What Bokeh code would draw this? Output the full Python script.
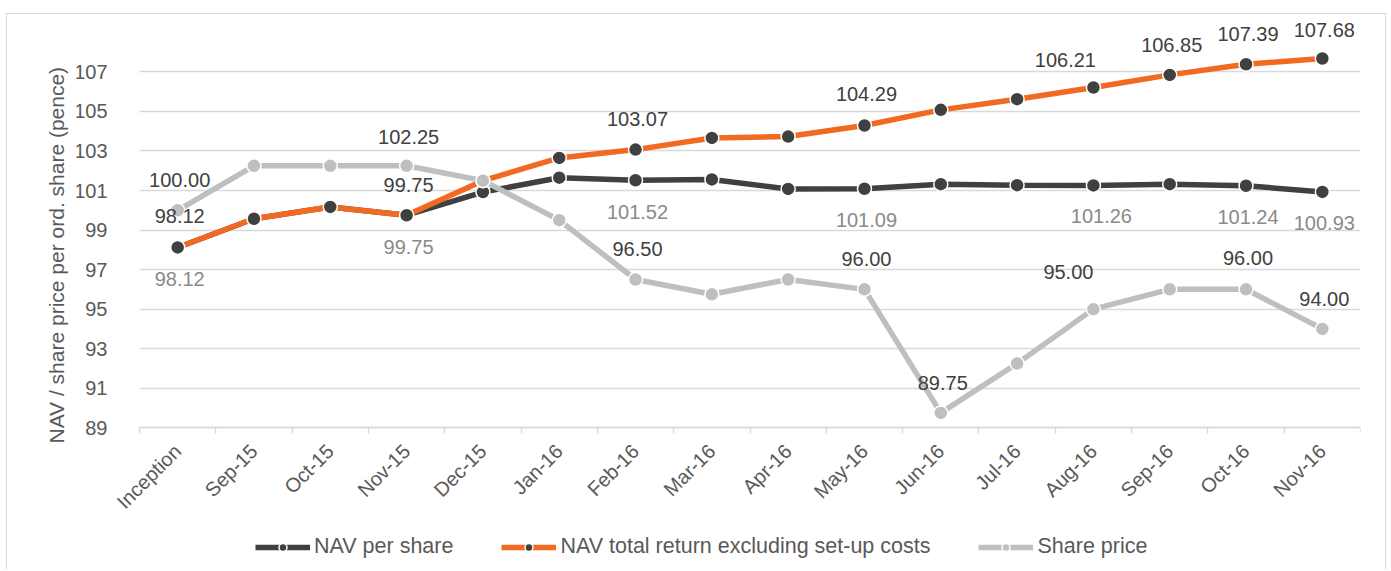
import math
from bokeh.plotting import figure
from bokeh.models import (ColumnDataSource, LabelSet, Legend, LegendItem,
                          FixedTicker, Range1d, Title)
from bokeh.embed import file_html
from bokeh.resources import INLINE
from bokeh.core.properties import value

# ---------------- data ----------------
categories = ["Inception", "Sep-15", "Oct-15", "Nov-15", "Dec-15", "Jan-16",
              "Feb-16", "Mar-16", "Apr-16", "May-16", "Jun-16", "Jul-16",
              "Aug-16", "Sep-16", "Oct-16", "Nov-16"]
nav_per_share = [98.12, 99.57, 100.17, 99.75, 100.92, 101.65, 101.52, 101.56,
                 101.08, 101.09, 101.32, 101.27, 101.26, 101.32, 101.24, 100.93]
nav_total_return = [98.12, 99.57, 100.17, 99.75, 101.50, 102.65, 103.07, 103.66,
                    103.73, 104.29, 105.08, 105.62, 106.21, 106.85, 107.39, 107.68]
share_price = [100.00, 102.25, 102.25, 102.25, 101.50, 99.50, 96.50, 95.75,
               96.50, 96.00, 89.75, 92.25, 95.00, 96.00, 96.00, 94.00]
y_ticks = [89, 91, 93, 95, 97, 99, 101, 103, 105, 107]
y_axis_min = 89

# which points carry a data label
share_label_idx = [0, 3, 6, 9, 10, 12, 14, 15]
total_label_idx = [0, 3, 6, 9, 12, 13, 14, 15]
nav_label_idx = [0, 3, 6, 9, 12, 14, 15]

# label placement (screen px offsets)
share_label_dx = [2, 2, 2, 2, 2, -25, 2, 2]
share_label_dy = [30, 29, 30, 30, 30, 37, 31, 30]
total_label_dx = [2, 2, 2, 2, -28, 2, 2, 2]
total_label_dy = [31, 30, 31, 31, 28, 30, 30, 28]
nav_label_dx = [2, 2, 2, 2, 8, 2, 2]
nav_label_dy = [-32, -32, -32, -31, -31, -31, -31]

# ---------------- styles ----------------
FONT = "Liberation Sans"
DARK = "#404040"
ORANGE = "#f26a21"
GREY = "#bfbfbf"
TXT = "#595959"
GRID = "#d9d9d9"

xs = list(range(len(categories)))
x_lo, x_hi = -0.5, len(categories) - 0.5

# the frame extends left and down so that axis labels and legend fit inside it;
# both axes are pinned to the data area's edges (x = -0.5, y = 89)
p = figure(x_range=Range1d(-1.3257, x_hi), y_range=Range1d(81.98, 109.5),
           width=1380, height=556,
           min_border_left=69, min_border_right=27,
           min_border_top=8, min_border_bottom=4,
           output_backend="svg", toolbar_location=None)
p.styles = {"margin-top": "13px", "margin-left": "6px",
            "border-top": "1px solid #d9d9d9",
            "border-left": "1px solid #d9d9d9", "border-right": "1px solid #d9d9d9"}
p.outline_line_color = None
p.background_fill_color = "white"
p.border_fill_color = "white"

# grid
p.xgrid.visible = False
p.ygrid.grid_line_color = GRID
p.ygrid.grid_line_width = 1.5
try:
    p.ygrid.cross_bounds = (x_lo, x_hi)
except AttributeError:
    pass

# x axis
p.xaxis.fixed_location = y_axis_min
p.xaxis.bounds = (x_lo, x_hi)
p.xaxis.ticker = FixedTicker(ticks=xs, minor_ticks=[i - 0.5 for i in range(len(categories) + 1)])
p.xaxis.major_label_overrides = {i: c for i, c in enumerate(categories)}
p.xaxis.major_label_orientation = math.pi / 4
p.xaxis.axis_line_color = GRID
p.xaxis.axis_line_width = 1.5
p.xaxis.major_tick_line_color = None
p.xaxis.major_tick_out = 0
p.xaxis.minor_tick_line_color = GRID
p.xaxis.minor_tick_line_width = 1.5
p.xaxis.minor_tick_in = 0
p.xaxis.minor_tick_out = 6
p.xaxis.major_label_standoff = 14
p.xaxis.major_label_text_font = FONT
p.xaxis.major_label_text_font_size = "20px"
p.xaxis.major_label_text_color = TXT

# y axis
p.yaxis.fixed_location = x_lo
p.yaxis.ticker = FixedTicker(ticks=y_ticks)
p.yaxis.axis_line_color = None
p.yaxis.major_tick_line_color = None
p.yaxis.minor_tick_line_color = None
p.yaxis.major_label_standoff = 26
p.yaxis.major_label_text_font = FONT
p.yaxis.major_label_text_font_size = "20px"
p.yaxis.major_label_text_color = TXT

ytitle = Title(text="NAV / share price per ord. share (pence)", align="left", offset=123,
               standoff=18, text_font=FONT, text_font_size="21px",
               text_font_style="normal", text_color=TXT)
p.add_layout(ytitle, "left")

src = ColumnDataSource(dict(x=xs, nav=nav_per_share, tot=nav_total_return, sp=share_price))

l1 = p.line("x", "nav", source=src, line_color=DARK, line_width=5.5)
m1 = p.scatter("x", "nav", source=src, size=14, fill_color=DARK, line_color="white", line_width=1.5)
l2 = p.line("x", "tot", source=src, line_color=ORANGE, line_width=5.5)
m2 = p.scatter("x", "tot", source=src, size=14, fill_color=DARK, line_color="white", line_width=1.5)
l3 = p.line("x", "sp", source=src, line_color=GREY, line_width=5.5)
m3 = p.scatter("x", "sp", source=src, size=14, fill_color=GREY, line_color="white", line_width=1.5)


def add_labels(idx, series, dx, dy, color):
    s = ColumnDataSource(dict(x=[xs[i] for i in idx], y=[series[i] for i in idx],
                              t=["%.2f" % series[i] for i in idx], dx=dx, dy=dy))
    ls = LabelSet(x="x", y="y", text="t", source=s, x_offset="dx", y_offset="dy",
                  text_align="center", text_baseline="middle",
                  text_font=value(FONT), text_font_size="20px", text_color=color)
    p.add_layout(ls)


add_labels(share_label_idx, share_price, share_label_dx, share_label_dy, DARK)
add_labels(total_label_idx, nav_total_return, total_label_dx, total_label_dy, DARK)
add_labels(nav_label_idx, nav_per_share, nav_label_dx, nav_label_dy, "#8a8a8a")

legend = Legend(items=[LegendItem(label="NAV per share", renderers=[l1, m1]),
                       LegendItem(label="NAV total return excluding set-up costs", renderers=[l2, m2]),
                       LegendItem(label="Share price", renderers=[l3, m3])],
                orientation="horizontal", location=(179, 7),
                glyph_width=55, glyph_height=20, label_standoff=4, spacing=48,
                padding=0, margin=0, border_line_color=None, background_fill_alpha=0,
                label_text_font=FONT, label_text_font_size="21.5px", label_text_color=TXT)
p.add_layout(legend)

open("out.html", "w").write(file_html(p, INLINE))
